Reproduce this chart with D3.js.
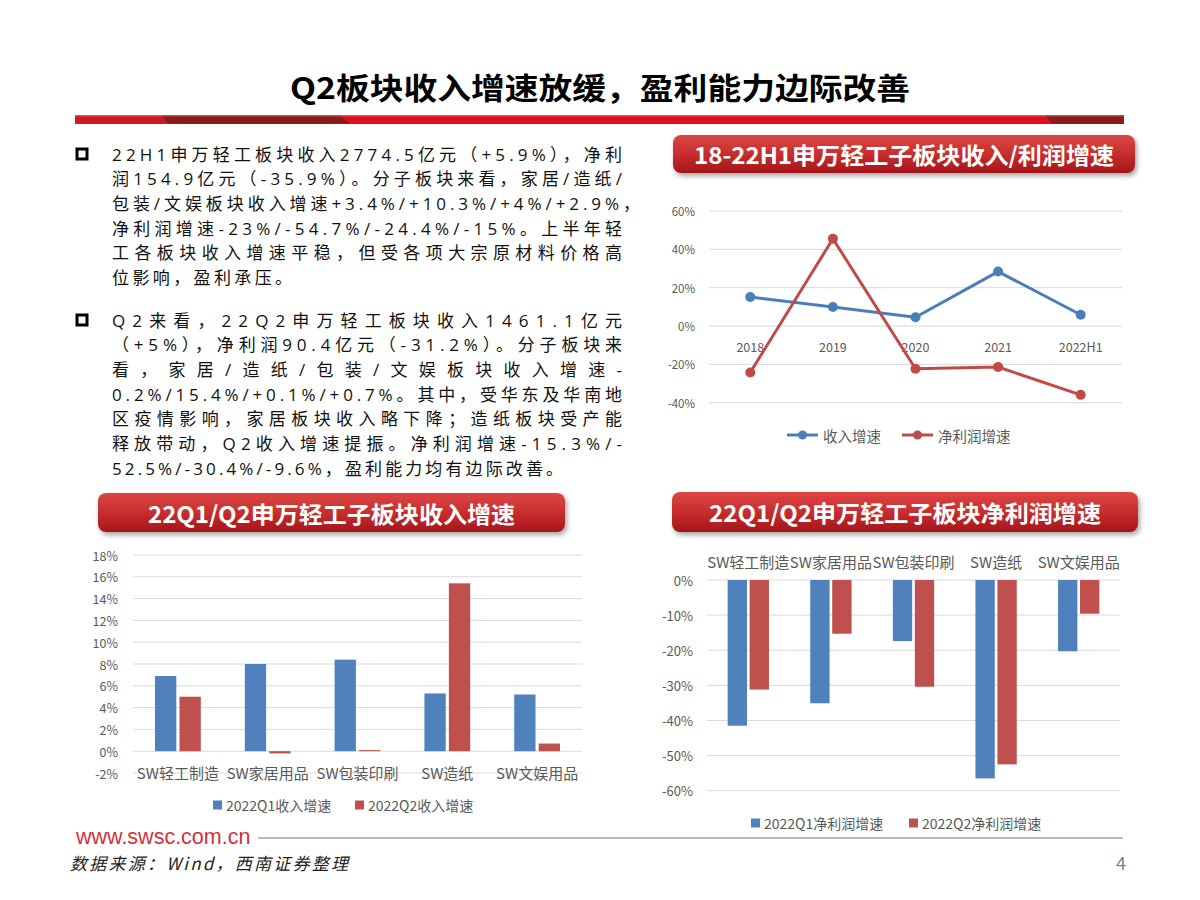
<!DOCTYPE html>
<html>
<head>
<meta charset="utf-8">
<script src="https://cdn.jsdelivr.net/npm/d3@7"></script>
<style>
  body { margin: 0; background: #fff; }
  svg { display: block; font-family: "Noto Sans CJK SC", "Noto Sans", sans-serif; }
</style>
</head>
<body>
<script>
// ---- data ----
const pageTitle = "Q2板块收入增速放缓，盈利能力边际改善";

const para1 = [
  "22H1申万轻工板块收入2774.5亿元（+5.9%），净利",
  "润154.9亿元（-35.9%）。分子板块来看，家居/造纸/",
  "包装/文娱板块收入增速+3.4%/+10.3%/+4%/+2.9%，",
  "净利润增速-23%/-54.7%/-24.4%/-15%。上半年轻",
  "工各板块收入增速平稳，但受各项大宗原材料价格高",
  "位影响，盈利承压。",
];
const para2 = [
  "Q2来看，22Q2申万轻工板块收入1461.1亿元",
  "（+5%），净利润90.4亿元（-31.2%）。分子板块来",
  "看，家居/造纸/包装/文娱板块收入增速-",
  "0.2%/15.4%/+0.1%/+0.7%。其中，受华东及华南地",
  "区疫情影响，家居板块收入略下降；造纸板块受产能",
  "释放带动，Q2收入增速提振。净利润增速-15.3%/-",
  "52.5%/-30.4%/-9.6%，盈利能力均有边际改善。",
];

// line chart
const lineTitle = "18-22H1申万轻工子板块收入/利润增速";
const lineYears = ["2018", "2019", "2020", "2021", "2022H1"];
const revenueGrowth = [15.1, 9.9, 4.6, 28.4, 5.9];
const profitGrowth = [-24.2, 45.5, -22.3, -21.4, -35.9];
const lineTicks = [-40, -20, 0, 20, 40, 60];
const lineNames = ["收入增速", "净利润增速"];

// bar charts
const sectors = ["SW轻工制造", "SW家居用品", "SW包装印刷", "SW造纸", "SW文娱用品"];
const revTitle = "22Q1/Q2申万轻工子板块收入增速";
const q1Revenue = [6.9, 8.0, 8.4, 5.3, 5.2];
const q2Revenue = [5.0, -0.2, 0.1, 15.4, 0.7];
const revTicks = [-2, 0, 2, 4, 6, 8, 10, 12, 14, 16, 18];
const revNames = ["2022Q1收入增速", "2022Q2收入增速"];

const profitTitle = "22Q1/Q2申万轻工子板块净利润增速";
const q1Profit = [-41.5, -35.1, -17.4, -56.5, -20.3];
const q2Profit = [-31.2, -15.3, -30.4, -52.5, -9.6];
const profitTicks = [0, -10, -20, -30, -40, -50, -60];
const profitNames = ["2022Q1净利润增速", "2022Q2净利润增速"];

const footerSite = "www.swsc.com.cn";
const footerSource = "数据来源：Wind，西南证券整理";
const pageNo = "4";

// ---- layout ----
const width = 1200;
const height = 900;
const blue = "#4f81bd";
const red = "#c0504d";
const axisGray = "#595959";
const gridGray = "#d9d9d9";

const svg = d3
  .select("body")
  .append("svg")
  .attr("width", width)
  .attr("height", height)
  .attr("viewBox", [0, 0, width, height]);

const defs = svg.append("defs");
const grad = defs
  .append("linearGradient")
  .attr("id", "bannerGrad")
  .attr("x1", 0).attr("y1", 0).attr("x2", 0).attr("y2", 1);
grad.append("stop").attr("offset", "0%").attr("stop-color", "#dc4644");
grad.append("stop").attr("offset", "55%").attr("stop-color", "#c52b2c");
grad.append("stop").attr("offset", "100%").attr("stop-color", "#a3161a");

defs
  .append("filter")
  .attr("id", "shadow")
  .attr("x", "-10%").attr("y", "-30%").attr("width", "120%").attr("height", "170%")
  .append("feDropShadow")
  .attr("dx", 2).attr("dy", 3).attr("stdDeviation", 2.5)
  .attr("flood-color", "#000").attr("flood-opacity", 0.35);

// ---- page title and red rule ----
svg
  .append("text")
  .attr("x", 600)
  .attr("y", 86)
  .attr("text-anchor", "middle")
  .attr("dominant-baseline", "central")
  .attr("font-size", 30)
  .attr("font-weight", "bold")
  .attr("fill", "#000")
  .attr("textLength", 620)
  .attr("lengthAdjust", "spacingAndGlyphs")
  .text(pageTitle);

svg.append("rect").attr("x", 75).attr("y", 115).attr("width", 1049).attr("height", 9).attr("fill", "#e10f1c");
svg.append("rect").attr("x", 75).attr("y", 115).attr("width", 100).attr("height", 9).attr("fill", "#cf1a22");
svg.append("polygon").attr("points", "162,115 340,115 350,124 168,124").attr("fill", "#8e1b1b");
svg.append("polygon").attr("points", "1045,115 1124,115 1124,124 1052,124").attr("fill", "#8e1b1b");
svg.append("rect").attr("x", 75).attr("y", 115).attr("width", 1049).attr("height", 1.5).attr("fill", "#fff").attr("opacity", 0.25);

// ---- bullet text ----
// right edges of each justified line (last line of each paragraph measured too)
function paragraph(lines, top, lastRight) {
  svg
    .append("rect")
    .attr("x", 77).attr("y", top - 5)
    .attr("width", 10).attr("height", 10)
    .attr("fill", "none").attr("stroke", "#000").attr("stroke-width", 3);
  lines.forEach((line, i) => {
    let right = 622;
    if (line.endsWith("，") && line.startsWith("包装")) right = 640;
    if (i === lines.length - 1) right = lastRight;
    svg
      .append("text")
      .attr("x", 112)
      .attr("y", top + i * 24.7)
      .attr("dominant-baseline", "central")
      .attr("font-family", "'Open Sans', 'Noto Sans CJK SC', sans-serif")
      .attr("font-size", 17)
      .attr("fill", "#111")
      .attr("textLength", right - 112)
      .attr("lengthAdjust", "spacing")
      .text(line);
  });
}
paragraph(para1, 154, 292);
paragraph(para2, 320, 563);

// ---- banner helper ----
function banner(x0, y0, w, h, label, textW) {
  svg
    .append("rect")
    .attr("x", x0).attr("y", y0)
    .attr("width", w).attr("height", h)
    .attr("rx", 8)
    .attr("fill", "url(#bannerGrad)")
    .attr("filter", "url(#shadow)");
  svg
    .append("text")
    .attr("x", x0 + w / 2)
    .attr("y", y0 + h / 2)
    .attr("text-anchor", "middle")
    .attr("dominant-baseline", "central")
    .attr("font-size", 23)
    .attr("font-weight", "bold")
    .attr("fill", "#fff")
    .attr("textLength", textW)
    .attr("lengthAdjust", "spacingAndGlyphs")
    .text(label);
}

// ============ LINE CHART ============
banner(673, 135, 462, 38, lineTitle, 420);

const lx = d3.scalePoint(lineYears, [709, 1122]).padding(0.5);
const ly = d3.scaleLinear([-40, 60], [402.7, 211]);

const lineG = svg.append("g");
lineG
  .selectAll("line.grid")
  .data(lineTicks)
  .join("line")
  .attr("x1", 709).attr("x2", 1122)
  .attr("y1", (d) => ly(d)).attr("y2", (d) => ly(d))
  .attr("stroke", gridGray);
lineG
  .selectAll("text.ytick")
  .data(lineTicks)
  .join("text")
  .attr("x", 695)
  .attr("y", (d) => ly(d))
  .attr("text-anchor", "end")
  .attr("dominant-baseline", "central")
  .attr("font-size", 11.5)
  .attr("fill", axisGray)
  .text((d) => `${d}%`);
lineG
  .selectAll("text.xtick")
  .data(lineYears)
  .join("text")
  .attr("x", (d) => lx(d))
  .attr("y", 346)
  .attr("text-anchor", "middle")
  .attr("dominant-baseline", "central")
  .attr("font-size", 12.5)
  .attr("fill", axisGray)
  .text((d) => d);

const lineGen = d3
  .line()
  .x((d, i) => lx(lineYears[i]))
  .y((d) => ly(d));

[
  [revenueGrowth, "#4a7ebb"],
  [profitGrowth, "#be4b48"],
].forEach(([vals, color]) => {
  lineG.append("path")
    .attr("d", lineGen(vals))
    .attr("fill", "none")
    .attr("stroke", color)
    .attr("stroke-width", 3)
    .attr("stroke-linejoin", "round");
  lineG.append("g")
    .selectAll("circle")
    .data(vals)
    .join("circle")
    .attr("cx", (d, i) => lx(lineYears[i]))
    .attr("cy", (d) => ly(d))
    .attr("r", 5)
    .attr("fill", color);
});

// legend
[
  [lineNames[0], "#4a7ebb", 787],
  [lineNames[1], "#be4b48", 902],
].forEach(([name, color, x0]) => {
  lineG.append("line")
    .attr("x1", x0).attr("x2", x0 + 31)
    .attr("y1", 435).attr("y2", 435)
    .attr("stroke", color).attr("stroke-width", 3);
  lineG.append("circle").attr("cx", x0 + 15.5).attr("cy", 435).attr("r", 4.5).attr("fill", color);
  lineG.append("text")
    .attr("x", x0 + 36)
    .attr("y", 435)
    .attr("dominant-baseline", "central")
    .attr("font-size", 14.5)
    .attr("fill", axisGray)
    .text(name);
});

// ============ BAR CHART HELPER ============
function barChart(opts) {
  const g = svg.append("g");
  const x = d3.scaleBand(sectors, [opts.x0, opts.x1]);
  const sub = d3
    .scaleBand(["q1", "q2"], [x.bandwidth() * opts.inset, x.bandwidth() * (1 - opts.inset)])
    .paddingInner(opts.gap);
  const y = d3.scaleLinear(opts.domain, opts.range);

  g.selectAll("line.grid")
    .data(opts.ticks)
    .join("line")
    .attr("x1", opts.x0).attr("x2", opts.x1)
    .attr("y1", (d) => y(d)).attr("y2", (d) => y(d))
    .attr("stroke", gridGray);

  g.selectAll("text.ytick")
    .data(opts.ticks)
    .join("text")
    .attr("x", opts.labelX)
    .attr("y", (d) => y(d))
    .attr("text-anchor", "end")
    .attr("dominant-baseline", "central")
    .attr("font-size", opts.tickSize)
    .attr("fill", axisGray)
    .text((d) => `${d}%`);

  [
    ["q1", opts.q1, blue],
    ["q2", opts.q2, red],
  ].forEach(([key, vals, color]) => {
    g.append("g")
      .selectAll("rect")
      .data(vals)
      .join("rect")
      .attr("x", (d, i) => x(sectors[i]) + sub(key))
      .attr("width", sub.bandwidth())
      .attr("y", (d) => y(Math.max(0, d)))
      .attr("height", (d) => Math.abs(y(d) - y(0)))
      .attr("fill", color);
  });

  g.selectAll("text.cat")
    .data(sectors)
    .join("text")
    .attr("x", (d) => x(d) + x.bandwidth() / 2)
    .attr("y", opts.catY)
    .attr("text-anchor", "middle")
    .attr("dominant-baseline", "central")
    .attr("font-size", 15)
    .attr("fill", axisGray)
    .text((d) => d);

  opts.legend.forEach(([name, color, lx0]) => {
    g.append("rect")
      .attr("x", lx0).attr("y", opts.legendY - 4.5)
      .attr("width", 9).attr("height", 9)
      .attr("fill", color);
    g.append("text")
      .attr("x", lx0 + 13)
      .attr("y", opts.legendY)
      .attr("dominant-baseline", "central")
      .attr("font-size", 14)
      .attr("fill", axisGray)
      .text(name);
  });
}

// ============ REVENUE BARS ============
banner(98, 493, 467, 39, revTitle, 367);
barChart({
  x0: 133, x1: 582,
  inset: 0.245, gap: 0.13,
  domain: [-2, 18], range: [773, 555],
  ticks: revTicks, labelX: 118, tickSize: 12.5,
  q1: q1Revenue, q2: q2Revenue,
  catY: 772,
  legendY: 805,
  legend: [[revNames[0], blue, 213], [revNames[1], red, 355]],
});

// ============ PROFIT BARS ============
banner(672, 492, 466, 40, profitTitle, 392);
barChart({
  x0: 707, x1: 1120,
  inset: 0.25, gap: 0.12,
  domain: [-60, 0], range: [790.7, 580],
  ticks: profitTicks, labelX: 693, tickSize: 13,
  q1: q1Profit, q2: q2Profit,
  catY: 561,
  legendY: 823,
  legend: [[profitNames[0], blue, 751], [profitNames[1], red, 909]],
});

// ---- footer ----
svg.append("text")
  .attr("x", 76).attr("y", 837)
  .attr("dominant-baseline", "central")
  .attr("font-family", "'Liberation Sans', Arial, sans-serif")
  .attr("font-size", 21.5)
  .attr("fill", "#d0323a")
  .text(footerSite);
svg.append("line")
  .attr("x1", 258).attr("x2", 1123)
  .attr("y1", 838).attr("y2", 838)
  .attr("stroke", "#a6a6a6").attr("stroke-width", 1.5);
svg.append("text")
  .attr("x", 70).attr("y", 862)
  .attr("dominant-baseline", "central")
  .attr("font-size", 17)
  .attr("font-style", "italic")
  .attr("fill", "#222")
  .attr("textLength", 278)
  .text(footerSource);
svg.append("text")
  .attr("x", 1126).attr("y", 862)
  .attr("text-anchor", "end")
  .attr("dominant-baseline", "central")
  .attr("font-size", 18)
  .attr("fill", "#7f7f7f")
  .text(pageNo);
</script>
</body>
</html>
